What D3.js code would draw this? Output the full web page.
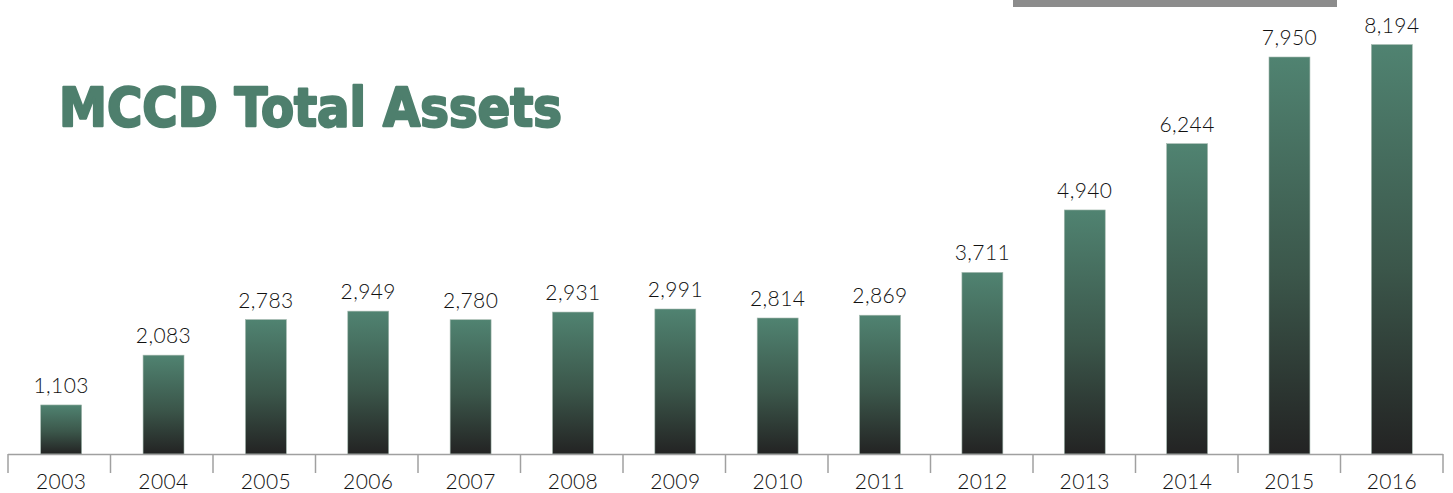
<!DOCTYPE html>
<html>
<head>
<meta charset="utf-8">
<script src="https://cdn.jsdelivr.net/npm/d3@7"></script>
<style>
  html, body { margin: 0; padding: 0; background: #fff; }
  svg { display: block; }
</style>
</head>
<body>
<div id="chart"></div>
<script>
const years = ["2003","2004","2005","2006","2007","2008","2009","2010","2011","2012","2013","2014","2015","2016"];
const assets = [1103, 2083, 2783, 2949, 2780, 2931, 2991, 2814, 2869, 3711, 4940, 6244, 7950, 8194];
const title = "MCCD Total Assets";

const width = 1453, height = 493;
const baseY = 454;

const svg = d3.select("#chart")
  .append("svg")
  .attr("width", width)
  .attr("height", height)
  .attr("viewBox", [0, 0, width, height]);

// vertical gradient for the bars
const defs = svg.append("defs");
const grad = defs.append("linearGradient")
  .attr("id", "barGrad")
  .attr("x1", 0).attr("y1", 0).attr("x2", 0).attr("y2", 1);
grad.append("stop").attr("offset", "0%").attr("stop-color", "#508371");
grad.append("stop").attr("offset", "55%").attr("stop-color", "#3b564a");
grad.append("stop").attr("offset", "100%").attr("stop-color", "#232323");

const x = d3.scaleBand()
  .domain(years)
  .range([10, 1443])
  .paddingInner(0.6)
  .paddingOuter(0.3);

const y = d3.scaleLinear()
  .domain([0, 8194])
  .range([461, 44.6]);

// grey strip at top
svg.append("rect")
  .attr("x", 1013).attr("y", 0)
  .attr("width", 324).attr("height", 7)
  .attr("fill", "#8c8c8c");

// title (stroked to get a heavier weight)
svg.append("text")
  .attr("x", 59)
  .attr("y", 126)
  .attr("fill", "#4e7f6d")
  .attr("stroke", "#4e7f6d")
  .attr("stroke-width", 2.4)
  .attr("stroke-linejoin", "round")
  .style("font", "bold 54px 'DejaVu Sans', sans-serif")
  .attr("textLength", 503)
  .attr("lengthAdjust", "spacingAndGlyphs")
  .text(title);

const data = years.map((yr, i) => ({ year: yr, value: assets[i] }));

svg.append("g")
  .selectAll("rect")
  .data(data)
  .join("rect")
    .attr("x", d => x(d.year))
    .attr("y", d => y(d.value))
    .attr("width", x.bandwidth())
    .attr("height", d => baseY - y(d.value))
    .attr("fill", "url(#barGrad)")
    .attr("stroke", "#a3b8ae")
    .attr("stroke-width", 0.6);

svg.append("g")
  .selectAll("text")
  .data(data)
  .join("text")
    .attr("x", d => x(d.year) + x.bandwidth() / 2)
    .attr("y", d => y(d.value) - 12)
    .attr("text-anchor", "middle")
    .attr("fill", "#111")
    .style("font", "300 21px Lato, sans-serif")
    .style("letter-spacing", "0.4px")
    .text(d => d3.format(",")(d.value));

// axis with ticks between categories
const axis = svg.append("g");
axis.append("line")
  .attr("x1", 8).attr("x2", 1443)
  .attr("y1", baseY + 0.5).attr("y2", baseY + 0.5)
  .attr("stroke", "#a0a0a0").attr("stroke-width", 1.5);

axis.selectAll("line.tick")
  .data(d3.range(years.length + 1))
  .join("line")
    .attr("class", "tick")
    .attr("x1", i => 8 + i * (1435 / years.length))
    .attr("x2", i => 8 + i * (1435 / years.length))
    .attr("y1", baseY).attr("y2", 473)
    .attr("stroke", "#a0a0a0").attr("stroke-width", 1.5);

axis.selectAll("text")
  .data(years)
  .join("text")
    .attr("x", d => x(d) + x.bandwidth() / 2)
    .attr("y", 489)
    .attr("text-anchor", "middle")
    .attr("fill", "#111")
    .style("font", "300 21px Lato, sans-serif")
    .style("letter-spacing", "0.4px")
    .text(d => d);
</script>
</body>
</html>
